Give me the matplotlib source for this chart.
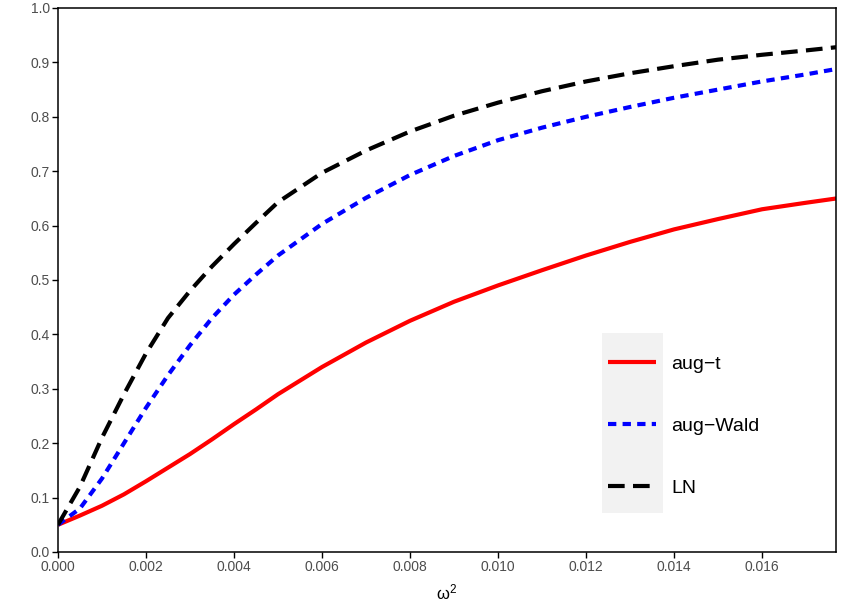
import matplotlib
matplotlib.use("Agg")
import matplotlib.pyplot as plt
from matplotlib.patches import Rectangle
import numpy as np

plt.rcParams['font.family'] = ['Liberation Sans', 'DejaVu Sans']

# omega^2 grid and rejection rates
omega2 = [0.0, 0.0005, 0.001, 0.0015, 0.002, 0.0025, 0.003, 0.0035, 0.004,
          0.0045, 0.005, 0.006, 0.007, 0.008, 0.009, 0.010, 0.011, 0.012,
          0.013, 0.014, 0.015, 0.016, 0.017, 0.0177]
aug_t = [0.05, 0.067, 0.085, 0.106, 0.13, 0.155, 0.18, 0.207, 0.235,
         0.262, 0.29, 0.34, 0.385, 0.425, 0.46, 0.49, 0.518, 0.545,
         0.57, 0.593, 0.612, 0.63, 0.642, 0.650]
aug_wald = [0.05, 0.08, 0.135, 0.20, 0.265, 0.325, 0.38, 0.43, 0.473,
            0.51, 0.545, 0.603, 0.651, 0.693, 0.728, 0.757, 0.78, 0.80,
            0.818, 0.835, 0.85, 0.865, 0.878, 0.888]
ln = [0.05, 0.12, 0.21, 0.29, 0.365, 0.43, 0.48, 0.525, 0.566,
      0.605, 0.643, 0.697, 0.738, 0.773, 0.802, 0.826, 0.847, 0.865,
      0.88, 0.893, 0.905, 0.914, 0.922, 0.928]

fig = plt.figure(figsize=(8.45, 6.1), dpi=100)
ax = fig.add_axes([0.0686, 0.0951, 0.9893 - 0.0686, 0.9869 - 0.0951])

ax.plot(omega2, aug_t, color='red', lw=3, solid_capstyle='butt', label='aug\u2212t')
ax.plot(omega2, aug_wald, color='blue', lw=3, linestyle=(0, (2, 1.5)), label='aug\u2212Wald')
ax.plot(omega2, ln, color='black', lw=3, linestyle=(0, (4, 2)), label='LN')

ax.set_xlim(0, 0.01768)
ax.set_ylim(0, 1)
xt = np.arange(0, 0.0170, 0.002)
ax.set_xticks(xt)
ax.set_xticklabels([f"{v:.3f}" for v in xt])
yt = np.arange(0, 1.01, 0.1)
ax.set_yticks(yt)
ax.set_yticklabels([f"{v:.1f}" for v in yt])
ax.tick_params(direction='out', length=4, width=1, colors='black',
               labelcolor='#4D4D4D', labelsize=10, pad=2)
for s in ax.spines.values():
    s.set_linewidth(1.1)
    s.set_color('black')

ax.set_xlabel(r'$\mathregular{\omega^2}$', fontsize=12, labelpad=6)

# grey background behind the legend keys only
ax.add_patch(Rectangle((0.699, 0.0717), 0.0786, 0.331, transform=ax.transAxes,
                       facecolor='#F2F2F2', edgecolor='none', zorder=0.5))
leg = ax.legend(loc='center left', bbox_to_anchor=(0.7069, 0.2316), borderaxespad=0,
                fontsize=14, handlelength=2.47, labelspacing=2.27, handletextpad=0.8,
                borderpad=0, frameon=False)

fig.savefig('out.png', dpi=100)
